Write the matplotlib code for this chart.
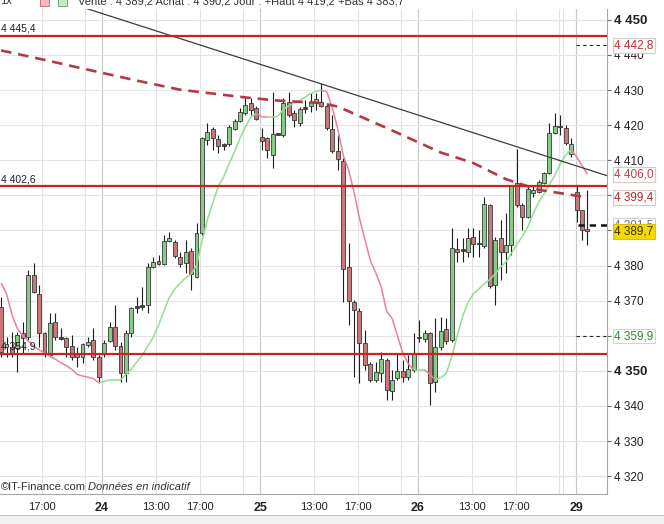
import numpy as np
import matplotlib
matplotlib.use("Agg")
import matplotlib.pyplot as plt
import matplotlib.transforms as mtransforms
from matplotlib.collections import LineCollection
from matplotlib.patches import Rectangle

plt.rcParams['font.family'] = ['Liberation Sans', 'DejaVu Sans']

# 30 min candles, 23 -> 29
opens = [4368.2, 4356.8, 4356.8, 4356.5, 4360.8, 4359.7, 4377.3, 4371.9, 4360.8, 4354.5,
         4363.9, 4359.1, 4359.4, 4357.1, 4354.8, 4353.9, 4357.4, 4358.8, 4353.9, 4355.1,
         4358.5, 4362.5, 4357.1, 4349.4, 4360.8, 4367.9, 4368.2, 4368.8, 4379.6, 4381.3,
         4380.5, 4387.0, 4386.7, 4382.4, 4380.8, 4384.2, 4376.8, 4389.3, 4415.8, 4419.0,
         4416.1, 4414.1, 4414.7, 4419.0, 4421.2, 4423.5, 4426.3, 4424.9, 4416.7, 4416.4,
         4411.5, 4417.3, 4417.2, 4426.6, 4423.5, 4420.6, 4424.6, 4425.5, 4426.6, 4426.6,
         4425.5, 4418.9, 4412.7, 4409.8, 4379.6, 4369.6, 4367.1, 4358.0, 4352.0, 4347.4,
         4349.4, 4353.1, 4344.3, 4348.0, 4350.0, 4348.3, 4350.3, 4359.3, 4359.1, 4360.8,
         4346.9, 4356.8, 4362.0, 4358.8, 4384.7, 4384.2, 4383.9, 4388.2, 4386.4, 4385.6,
         4397.3, 4374.5, 4387.9, 4383.9, 4385.9, 4403.6, 4397.3, 4393.9, 4400.7, 4401.0,
         4403.6, 4406.4, 4417.8, 4419.8, 4419.2, 4411.8, 4401.0, 4395.9, 4390.4]
highs = [4371.1, 4359.7, 4361.1, 4361.1, 4363.9, 4378.7, 4380.7, 4374.5, 4361.1, 4366.5,
         4366.5, 4362.2, 4359.7, 4360.2, 4356.8, 4358.0, 4359.7, 4362.2, 4354.5, 4358.8,
         4363.9, 4368.8, 4358.2, 4361.6, 4368.2, 4371.1, 4373.9, 4380.7, 4382.5, 4383.0,
         4388.7, 4389.6, 4387.3, 4383.9, 4387.3, 4385.0, 4392.1, 4416.7, 4420.6, 4419.5,
         4417.2, 4415.0, 4420.1, 4421.8, 4424.9, 4427.8, 4427.8, 4425.5, 4419.2, 4416.7,
         4429.5, 4417.8, 4427.8, 4429.5, 4424.4, 4425.2, 4427.2, 4429.2, 4429.2, 4432.1,
         4426.3, 4422.9, 4417.2, 4410.7, 4386.4, 4370.2, 4367.9, 4361.6, 4352.5, 4352.5,
         4355.4, 4353.7, 4350.3, 4355.1, 4353.1, 4354.5, 4360.8, 4364.5, 4361.6, 4361.1,
         4365.1, 4365.4, 4365.1, 4390.7, 4387.9, 4387.9, 4390.7, 4390.7, 4390.1, 4399.6,
         4397.6, 4388.2, 4393.0, 4395.0, 4403.0, 4413.2, 4397.8, 4402.7, 4403.0, 4404.4,
         4406.7, 4420.6, 4423.5, 4422.9, 4420.1, 4416.4, 4403.0, 4395.9, 4401.5]
lows = [4354.0, 4354.0, 4354.0, 4349.7, 4355.1, 4358.8, 4372.2, 4356.8, 4354.0, 4354.0,
        4358.8, 4358.8, 4354.0, 4353.1, 4351.1, 4352.2, 4356.8, 4353.1, 4346.5, 4354.0,
        4358.2, 4356.0, 4346.9, 4346.9, 4359.7, 4366.5, 4367.4, 4366.5, 4379.3, 4380.2,
        4380.2, 4386.7, 4382.2, 4379.6, 4377.9, 4373.1, 4376.5, 4388.7, 4414.4, 4413.0,
        4412.1, 4413.0, 4414.1, 4418.7, 4420.9, 4422.9, 4422.9, 4421.5, 4413.0, 4410.7,
        4407.8, 4417.2, 4416.7, 4422.4, 4419.5, 4419.8, 4423.5, 4423.8, 4424.4, 4425.2,
        4418.6, 4412.1, 4407.2, 4369.6, 4363.1, 4348.3, 4346.5, 4350.3, 4346.9, 4346.9,
        4346.9, 4341.7, 4341.7, 4347.4, 4346.9, 4347.4, 4349.7, 4358.2, 4358.2, 4340.3,
        4344.0, 4355.9, 4357.7, 4358.2, 4381.0, 4381.0, 4382.5, 4382.5, 4382.5, 4385.0,
        4373.6, 4368.8, 4375.9, 4377.9, 4383.0, 4396.7, 4390.2, 4393.6, 4399.6, 4400.7,
        4403.3, 4406.1, 4417.5, 4417.2, 4414.4, 4411.0, 4392.4, 4387.3, 4385.9]
closes = [4355.4, 4357.7, 4355.1, 4360.2, 4359.4, 4377.3, 4372.5, 4360.8, 4355.1, 4363.6,
          4359.7, 4359.7, 4356.8, 4353.9, 4353.9, 4357.7, 4358.2, 4353.9, 4348.3, 4358.0,
          4362.5, 4357.1, 4349.4, 4360.8, 4367.9, 4368.2, 4368.5, 4379.6, 4381.0, 4380.5,
          4387.0, 4387.9, 4382.7, 4380.5, 4383.9, 4377.6, 4389.3, 4416.4, 4418.1, 4416.4,
          4414.1, 4414.4, 4419.5, 4421.2, 4423.8, 4425.8, 4424.4, 4421.8, 4415.5, 4413.0,
          4417.5, 4417.6, 4426.3, 4422.9, 4421.5, 4424.6, 4424.9, 4426.6, 4427.5, 4425.5,
          4419.2, 4412.7, 4410.4, 4379.0, 4369.9, 4367.4, 4358.0, 4351.7, 4347.4, 4349.7,
          4353.4, 4344.6, 4347.4, 4350.0, 4348.3, 4350.5, 4354.8, 4359.5, 4360.8, 4346.6,
          4356.8, 4361.4, 4358.5, 4385.0, 4383.9, 4384.5, 4387.9, 4386.2, 4386.0, 4397.6,
          4374.2, 4387.3, 4383.9, 4385.9, 4402.7, 4397.3, 4393.9, 4401.8, 4401.5, 4403.8,
          4406.4, 4417.8, 4419.8, 4419.4, 4415.0, 4414.7, 4395.9, 4390.2, 4389.7]

# short moving average, one value per candle
ma_short = [4375.0, 4372.0, 4366.0, 4362.0, 4360.0, 4358.5, 4357.0, 4356.0, 4355.1, 4354.2,
            4353.3, 4352.3, 4351.5, 4350.4, 4349.0, 4348.5, 4348.2, 4347.8, 4346.6, 4347.0,
            4347.4, 4347.4, 4347.4, 4349.0, 4350.5, 4352.5, 4354.4, 4357.0, 4359.5, 4363.0,
            4367.0, 4371.0, 4373.3, 4375.0, 4376.5, 4377.5, 4380.0, 4387.0, 4393.0, 4398.0,
            4402.5, 4405.3, 4409.0, 4412.5, 4416.3, 4419.5, 4422.3, 4423.3, 4422.4, 4422.3,
            4422.3, 4422.5, 4424.5, 4425.5, 4426.3, 4427.0, 4428.0, 4429.0, 4429.6, 4430.0,
            4429.5, 4425.0, 4419.0, 4411.5, 4407.3, 4401.0, 4393.5, 4387.5, 4381.5, 4378.0,
            4374.0, 4367.0, 4365.0, 4360.0, 4355.0, 4352.0, 4350.3, 4350.3, 4350.3, 4349.0,
            4347.4, 4348.0, 4349.3, 4354.0, 4360.0, 4365.5, 4369.5, 4372.0, 4373.3, 4374.8,
            4376.0, 4377.6, 4379.6, 4381.0, 4383.5, 4386.0, 4388.3, 4391.0, 4394.7, 4398.0,
            4400.5, 4403.0, 4405.8, 4409.0, 4411.5, 4413.0, 4411.0, 4408.5, 4406.0]

# long moving average (dashed), read at a few candles
ma_long_idx = [0, 8, 16, 25, 33, 45, 51, 59, 62, 71, 81, 87, 93, 99, 108]
ma_long_val = [4441.3, 4438.6, 4435.8, 4432.7, 4430.1, 4427.9, 4427.0, 4426.3, 4425.3,
               4419.2, 4412.2, 4409.2, 4404.6, 4401.6, 4399.4]

trend_idx = [13.6, 111.6]
trend_val = [4454.3, 4405.6]

levels = [4445.4, 4402.6, 4354.9]
level_text = ["4 445,4", "4 402,6", "4 354,9"]

right_tags = [4442.8, 4406.0, 4399.4, 4391.5, 4389.7, 4359.9]
right_tag_text = ["4 442,8", "4 406,0", "4 399,4", "4 391,5", "4 389,7", "4 359,9"]

days = ["24", "25", "26", "29"]
hour_labels = ["13:00", "17:00"]

header = "Vente : 4 389,2 Achat : 4 390,2 Jour : +Haut 4 419,2 +Bas 4 383,7"

o = np.array(opens)
h = np.array(highs)
l = np.array(lows)
c = np.array(closes)
idx = np.arange(len(o))

fig = plt.figure(figsize=(6.64, 5.24), dpi=100)
fig.patch.set_facecolor('white')
ax = fig.add_axes([0, 30 / 524, 607 / 664, 485 / 524])
ax.set_xlim(-0.2, 111.6)
ax.set_ylim(4314.9, 4453.1)

# time axis: 29 half hour candles a day starting 08:00
day0 = 18.6
per_day = 29.1
ticks, labels, bold = [], [], []
ticks.append(day0 - per_day + 18)
labels.append("17:00")
bold.append(False)
for d, name in enumerate(days):
    start = day0 + per_day * d
    ticks.append(start)
    labels.append(name)
    bold.append(True)
    if d < len(days) - 1:
        for hl, off in zip(hour_labels, [10, 18]):
            ticks.append(start + off)
            labels.append(hl)
            bold.append(False)
extra = [day0 + per_day * d + 26 for d in range(-1, 3)] + [day0 + per_day * 3 - 2.4]

for t, b in zip(ticks, bold):
    ax.axvline(t, color='#c8c8c8' if b else '#e2e2e2', lw=0.8, zorder=0)
for t in extra:
    ax.axvline(t, color='#e2e2e2', lw=0.8, zorder=0)
for v in range(4320, 4451, 10):
    ax.axhline(v, color='#e4e4e4', lw=0.8, zorder=0)

ax.set_xticks(ticks)
ax.set_xticklabels(labels, fontsize=8)
for lab, b in zip(ax.get_xticklabels(), bold):
    if b:
        lab.set_fontweight('bold')
        lab.set_fontsize(9)
ax.tick_params(axis='x', length=0, pad=6, colors='#222222')

ax.yaxis.tick_right()
yt = list(range(4320, 4451, 10))
ax.set_yticks(yt)
ax.set_yticklabels([f"{v // 1000} {v % 1000:03d}" for v in yt], fontsize=8.5)
for lab, v in zip(ax.get_yticklabels(), yt):
    if v % 50 == 0:
        lab.set_fontweight('bold')
        lab.set_fontsize(9.5)
ax.tick_params(axis='y', length=3, pad=2, color='#666666', colors='#222222')

for s in ['left', 'top']:
    ax.spines[s].set_visible(False)
for s in ['right', 'bottom']:
    ax.spines[s].set_color('#a8a8a8')
    ax.spines[s].set_linewidth(0.8)

# candles
ax.vlines(idx, l, h, color='#1e1e1e', lw=0.8, zorder=2)
body_lo = np.minimum(o, c)
body_h = np.abs(c - o)
doji = body_h < 0.6
fills = np.where(c >= o, '#86cc86', '#c87878')
fills = np.where(doji, '#444444', fills)
body_h = np.where(doji, 0.45, body_h)
ax.bar(idx, body_h, bottom=body_lo, width=0.72, color=fills,
       edgecolor='#3a3a3a', linewidth=0.6, zorder=3)

# short MA, green when rising, pink when falling
pts = np.column_stack([idx, ma_short])
segs = np.stack([pts[:-1], pts[1:]], axis=1)
ma = np.array(ma_short)
seg_col = np.where(np.diff(ma) >= 0, '#8ee08e', '#e8809a')
ax.add_collection(LineCollection(segs, colors=seg_col, linewidths=1.1, zorder=4))

ax.plot(ma_long_idx, ma_long_val, color='#b23a48', lw=1.9, dashes=(4, 2.6), zorder=4)
ax.plot(trend_idx, trend_val, color='#3c3c3c', lw=0.9, zorder=5)

for v, t in zip(levels, level_text):
    ax.axhline(v, color='#cc2222', lw=1.6, zorder=5)
    ax.text(0.0, v + 0.6, t, fontsize=7.5, color='#222222', ha='left', va='bottom', zorder=6)

x_last = day0 + per_day * 3
ax.plot([x_last, 111.6], [4442.8, 4442.8], color='#222222', lw=0.8, dashes=(3, 3), zorder=5)
ax.plot([x_last, 111.6], [4359.9, 4359.9], color='#222222', lw=0.8, dashes=(3, 3), zorder=5)
ax.plot([x_last + 0.4, 111.6], [4391.5, 4391.5], color='#111111', lw=1.8, dashes=(2.5, 2), zorder=5)

trans = mtransforms.blended_transform_factory(ax.transAxes, ax.transData)
tag_style = {
    "4 442,8": ('#c03038', 'white', '#d8c8c8'),
    "4 406,0": ('#c04050', 'white', '#d8c8c8'),
    "4 399,4": ('#b02828', 'white', '#d8c8c8'),
    "4 391,5": ('#777777', 'white', '#d0d0d0'),
    "4 389,7": ('#333300', '#f4d800', '#e0c000'),
    "4 359,9": ('#2e8a2e', 'white', '#c8dcc8'),
}
for v, t in zip(right_tags, right_tag_text):
    fc_txt, bg, ec = tag_style[t]
    ax.text(614 / 607, v, t, transform=trans, fontsize=8.5, color=fc_txt,
            ha='left', va='center', clip_on=False, zorder=10,
            bbox=dict(boxstyle='square,pad=0.12', fc=bg, ec=ec, lw=0.8))

ax.text(0.0, 4315.4, "\u00a9IT-Finance.com", fontsize=8, color='#333333',
        ha='left', va='bottom', zorder=6)
ax.text(88 / 607, 4315.4, "Donn\u00e9es en indicatif", fontsize=8, color='#333333',
        style='italic', ha='left', va='bottom', transform=trans, zorder=6)

# header strip (cut at the top of the screenshot) and bottom toolbar
fig.text(0.0, 1 - 4.5 / 524, "1x", fontsize=8, color='#333333', va='baseline')
fig.patches.append(Rectangle((40 / 664, 1 - 6 / 524), 9 / 664, 7 / 524, transform=fig.transFigure,
                             fc='#f0b8c0', ec='#c06070', lw=0.6))
fig.patches.append(Rectangle((58 / 664, 1 - 6 / 524), 9 / 664, 7 / 524, transform=fig.transFigure,
                             fc='#c8e8c8', ec='#60a060', lw=0.6))
fig.text(78 / 664, 1 - 4.5 / 524, header, fontsize=8, color='#333333', va='baseline')

fig.patches.append(Rectangle((0, 0), 1, 9 / 524, transform=fig.transFigure,
                             fc='#f2f2f2', ec='none'))
fig.lines.append(plt.Line2D([0, 1], [9 / 524, 9 / 524], transform=fig.transFigure,
                            color='#c8c8c8', lw=0.8))

fig.savefig("out.png", dpi=100, facecolor='white')
